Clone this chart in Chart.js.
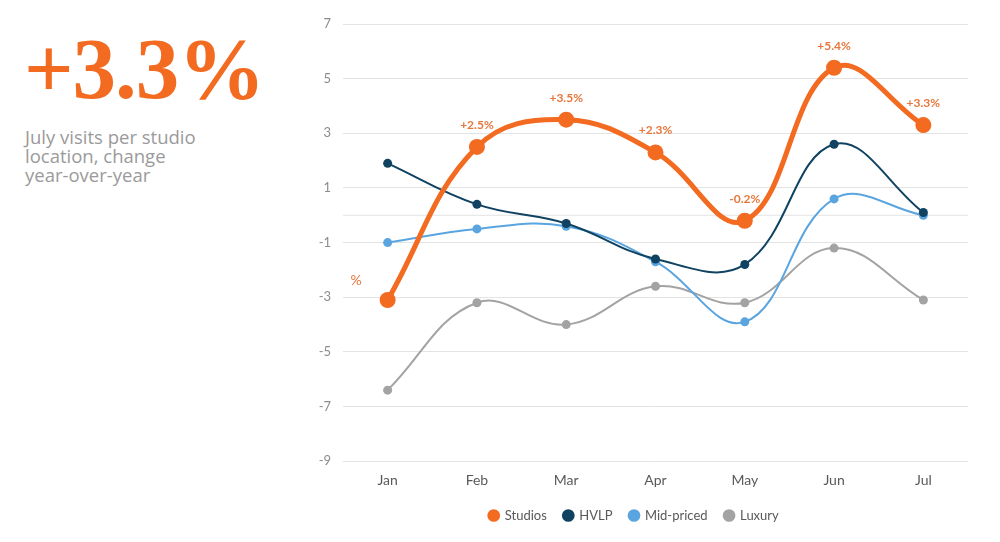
<!DOCTYPE html>
<html>
<head>
<meta charset="utf-8">
<script src="https://cdn.jsdelivr.net/npm/chart.js@4"></script>
<style>
  html, body { margin: 0; padding: 0; background: #fff; }
  body { width: 1000px; height: 542px; position: relative; overflow: hidden; }
  #big {
    position: absolute; left: 24px; top: 22px;
    font-family: "Liberation Serif", "DejaVu Serif", serif; font-weight: bold;
    font-size: 87px; line-height: 94px; color: #F26B21; letter-spacing: -1px;
  }
  #sub {
    position: absolute; left: 25px; top: 127px;
    font-family: "Open Sans", "Liberation Sans", sans-serif; font-size: 18.5px;
    line-height: 19px; color: #9a9a9a; white-space: nowrap;
  }
  #wrap { position: absolute; left: 300px; top: 0; width: 680px; height: 542px; }
</style>
</head>
<body>
<div id="big">+3.3%</div>
<div id="sub">July visits per studio<br>location, change<br>year-over-year</div>
<div id="wrap"><canvas id="trendChart"></canvas></div>
<script>
const months = ['Jan', 'Feb', 'Mar', 'Apr', 'May', 'Jun', 'Jul'];
const studios = [-3.1, 2.5, 3.5, 2.3, -0.2, 5.4, 3.3];
const hvlp = [1.9, 0.4, -0.3, -1.6, -1.8, 2.6, 0.1];
const midPriced = [-1.0, -0.5, -0.4, -1.7, -3.9, 0.6, 0.0];
const luxury = [-6.4, -3.2, -4.0, -2.6, -3.2, -1.2, -3.1];
const studioLabels = ['', '+2.5%', '+3.5%', '+2.3%', '-0.2%', '+5.4%', '+3.3%'];

// zero line plus the value labels over the Studios line
const extrasPlugin = {
    id: 'extras',
    beforeDatasetsDraw(chart) {
        const ctx = chart.ctx;
        const area = chart.chartArea;
        const y0 = chart.scales.y.getPixelForValue(0);
        ctx.save();
        ctx.strokeStyle = '#e3e3e3';
        ctx.lineWidth = 1;
        ctx.beginPath();
        ctx.moveTo(area.left, y0);
        ctx.lineTo(area.right, y0);
        ctx.stroke();
        ctx.restore();
    },
    afterDatasetsDraw(chart) {
        const ctx = chart.ctx;
        const meta = chart.getDatasetMeta(0);
        ctx.save();
        ctx.font = 'bold 12px Lato, "Open Sans", sans-serif';
        ctx.fillStyle = '#E6773D';
        ctx.textAlign = 'center';
        ctx.textBaseline = 'middle';
        meta.data.forEach((pt, i) => {
            if (studioLabels[i]) ctx.fillText(studioLabels[i], pt.x, pt.y - 22);
        });
        ctx.font = '14px Lato, "Open Sans", sans-serif';
        ctx.fillText('%', chart.chartArea.left + 13, chart.scales.y.getPixelForValue(-2.4));
        ctx.restore();
    }
};

function renderChart() {
    const ctx = document.getElementById('trendChart').getContext('2d');
    new Chart(ctx, {
        type: 'line',
        data: {
            labels: months,
            datasets: [
                {
                    label: 'Studios',
                    data: studios,
                    borderColor: '#F26B21',
                    backgroundColor: '#F26B21',
                    borderWidth: 5,
                    pointRadius: 8,
                    pointBorderWidth: 0,
                    tension: 0.4
                },
                {
                    label: 'HVLP',
                    data: hvlp,
                    borderColor: '#0F4361',
                    backgroundColor: '#0F4361',
                    borderWidth: 2,
                    pointRadius: 4.5,
                    pointBorderWidth: 0,
                    tension: 0.4
                },
                {
                    label: 'Mid-priced',
                    data: midPriced,
                    borderColor: '#5AA5E0',
                    backgroundColor: '#5AA5E0',
                    borderWidth: 2,
                    pointRadius: 4.5,
                    pointBorderWidth: 0,
                    tension: 0.4
                },
                {
                    label: 'Luxury',
                    data: luxury,
                    borderColor: '#A3A3A3',
                    backgroundColor: '#A3A3A3',
                    borderWidth: 2,
                    pointRadius: 4.5,
                    pointBorderWidth: 0,
                    tension: 0.4
                }
            ]
        },
        options: {
            responsive: true,
            maintainAspectRatio: false,
            animation: false,
            layout: {
                padding: { top: 24, right: 12, bottom: 10 }
            },
            scales: {
                y: {
                    min: -9,
                    max: 7,
                    border: { display: false },
                    grid: { color: '#e3e3e3', drawTicks: false },
                    afterFit(scale) { scale.width = 43; },
                    ticks: {
                        stepSize: 2,
                        padding: 12,
                        color: '#8c8c8c',
                        font: { family: 'Lato', size: 13 }
                    }
                },
                x: {
                    offset: true,
                    border: { display: false },
                    grid: { display: false },
                    ticks: {
                        padding: 3,
                        color: '#595959',
                        font: { family: 'Lato', size: 14 }
                    }
                }
            },
            plugins: {
                tooltip: { enabled: false },
                legend: {
                    position: 'bottom',
                    labels: {
                        usePointStyle: true,
                        pointStyle: 'circle',
                        boxWidth: 9,
                        boxHeight: 9,
                        padding: 17,
                        color: '#595959',
                        font: { family: 'Lato', size: 13 }
                    }
                }
            }
        },
        plugins: [extrasPlugin]
    });
}

document.addEventListener('DOMContentLoaded', renderChart);
</script>
</body>
</html>
